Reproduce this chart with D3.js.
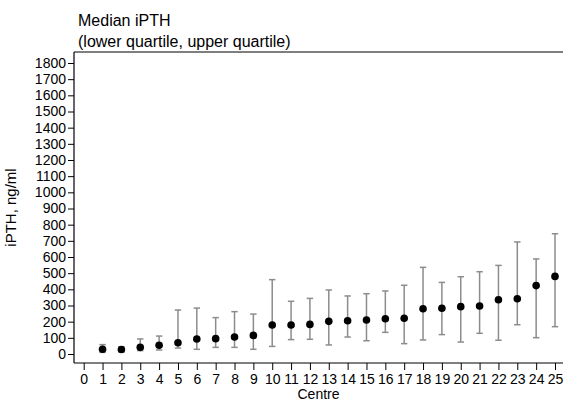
<!DOCTYPE html>
<html>
<head>
<meta charset="utf-8">
<script src="https://cdn.jsdelivr.net/npm/d3@7"></script>
<style>
  html, body { margin: 0; padding: 0; background: #fff; }
  svg { display: block; font-family: "Liberation Sans", Arial, Helvetica, sans-serif; }
</style>
</head>
<body>
<svg id="chart" width="563" height="401"></svg>
<script>
// Median iPTH per centre with lower / upper quartile
const centres = d3.range(1, 26);
const medians = [29, 28, 41, 54, 70, 93, 95, 105, 115, 179, 179, 183, 202, 206, 210, 218, 221, 280, 283, 293, 297, 336, 342, 423, 480];
const lowerQ  = [10, 12, 21, 25, 37, 29, 41, 41, 29, 47, 89, 91, 56, 105, 82, 134, 64, 87, 120, 74, 128, 85, 181, 101, 169];
const upperQ  = [58, 45, 93, 111, 272, 284, 225, 262, 247, 460, 326, 344, 396, 359, 373, 390, 425, 536, 443, 478, 509, 548, 693, 588, 744];
const xTicks = d3.range(0, 26);
const yTicks = d3.range(0, 1801, 100);

const svg = d3.select("#chart");
const plot = { left: 74, right: 563, top: 52, bottom: 363 };

const x = d3.scaleLinear().domain([0, 25]).range([83.7, 555]);
const y = d3.scaleLinear().domain([0, 1800]).range([354, 63]);

// Title
svg.append("text").attr("x", 78).attr("y", 26).attr("font-size", 16).text("Median iPTH");
svg.append("text").attr("x", 78).attr("y", 47).attr("font-size", 16).text("(lower quartile, upper quartile)");

// Plot frame: top, left and bottom edges
const frame = svg.append("g").attr("stroke", "#000").attr("stroke-width", 1.2);
frame.append("line").attr("x1", plot.left).attr("x2", plot.right).attr("y1", plot.top).attr("y2", plot.top);
frame.append("line").attr("x1", plot.left).attr("x2", plot.left).attr("y1", plot.top).attr("y2", plot.bottom);
frame.append("line").attr("x1", plot.left).attr("x2", plot.right).attr("y1", plot.bottom).attr("y2", plot.bottom);

// Y axis
const yAxis = svg.append("g")
  .attr("transform", `translate(${plot.left},0)`)
  .call(d3.axisLeft(y).tickValues(yTicks).tickFormat(d3.format("d")).tickSize(6).tickPadding(2).tickSizeOuter(0));
yAxis.select(".domain").remove();
yAxis.selectAll("text").attr("font-size", 14).attr("font-family", "Liberation Sans, Arial, sans-serif").attr("fill", "#000");
yAxis.selectAll("line").attr("stroke", "#000");

// X axis
const xAxis = svg.append("g")
  .attr("transform", `translate(0,${plot.bottom})`)
  .call(d3.axisBottom(x).tickValues(xTicks).tickFormat(d3.format("d")).tickSize(7).tickPadding(4).tickSizeOuter(0));
xAxis.select(".domain").remove();
xAxis.selectAll("text").attr("font-size", 14).attr("font-family", "Liberation Sans, Arial, sans-serif").attr("fill", "#000");
xAxis.selectAll("line").attr("stroke", "#000");

// Axis titles
svg.append("text")
  .attr("transform", `translate(16,${(plot.top + plot.bottom) / 2}) rotate(-90)`)
  .attr("text-anchor", "middle").attr("font-size", 15).text("iPTH, ng/ml");
svg.append("text")
  .attr("x", (plot.left + plot.right) / 2).attr("y", 399)
  .attr("text-anchor", "middle").attr("font-size", 14).text("Centre");

// Interquartile range bars
const data = centres.map((c, i) => ({ c, m: medians[i], lo: lowerQ[i], hi: upperQ[i] }));
const bars = svg.append("g").attr("stroke", "#8c8c8c").attr("stroke-width", 1.5).attr("fill", "none");
const capHalf = 3.2;
const bar = bars.selectAll("g").data(data).join("g");
bar.append("line").attr("x1", d => x(d.c)).attr("x2", d => x(d.c)).attr("y1", d => y(d.lo)).attr("y2", d => y(d.hi));
bar.append("line").attr("x1", d => x(d.c) - capHalf).attr("x2", d => x(d.c) + capHalf).attr("y1", d => y(d.hi)).attr("y2", d => y(d.hi));
bar.append("line").attr("x1", d => x(d.c) - capHalf).attr("x2", d => x(d.c) + capHalf).attr("y1", d => y(d.lo)).attr("y2", d => y(d.lo));

// Medians
svg.append("g").selectAll("circle").data(data).join("circle")
  .attr("cx", d => x(d.c)).attr("cy", d => y(d.m)).attr("r", 3.8).attr("fill", "#000");
</script>
</body>
</html>
